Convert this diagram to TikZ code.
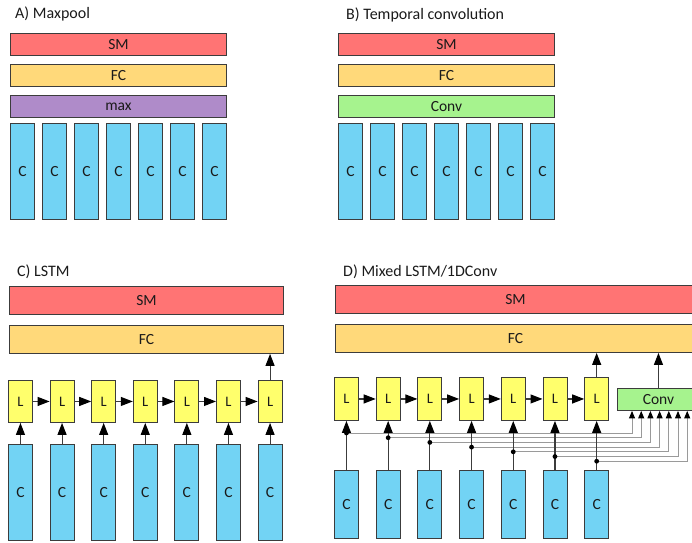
\documentclass[tikz,border=0pt]{standalone}
\usepackage{fontspec}
\setmainfont{Carlito}
\usetikzlibrary{arrows.meta}
\definecolor{smred}{HTML}{FF7474}
\definecolor{fcyel}{HTML}{FFD97A}
\definecolor{maxpur}{HTML}{AF8BC9}
\definecolor{convgr}{HTML}{A6F38E}
\definecolor{cblue}{HTML}{72D3F4}
\definecolor{lyel}{HTML}{FFFF6C}
\definecolor{edge}{HTML}{3C3C3C}
\definecolor{txt}{HTML}{1A1A1A}
\definecolor{tapgray}{HTML}{9A9A9A}
\begin{document}
\begin{tikzpicture}[x=1pt,y=-1pt,
  bx/.style={draw=edge, line width=0.9pt, inner sep=0pt, anchor=north west, text=txt,
             font=\fontsize{15.5}{17}\selectfont},
  cbox/.style={bx, fill=cblue, minimum width=24pt},
  lbox/.style={bx, fill=lyel, minimum width=24pt, minimum height=43pt, font=\fontsize{14.5}{16}\selectfont},
  ttl/.style={anchor=base west, inner sep=0pt, text=txt, font=\fontsize{16}{18}\selectfont},
  conn/.style={draw=edge, line width=1.1pt, -{Triangle[length=12pt,width=9pt,color=black]}},
  tap/.style={draw=tapgray, line width=0.9pt, -{Triangle[length=7.5pt,width=6pt,color=black]}},
  dot/.style={fill=black}
]
\clip (0,0) rectangle (692,542);
\useasboundingbox (0,0) rectangle (692,542);

% ---------- A) Maxpool
\node[ttl] (ta) at (15,18) {A) Maxpool};
\node[bx, fill=smred, minimum width=216pt, minimum height=22pt] (aSM) at (10,33) {SM};
\node[bx, fill=fcyel, minimum width=216pt, minimum height=22pt] (aFC) at (10,64) {FC};
\node[bx, fill=maxpur, minimum width=216pt, minimum height=22pt] (aMax) at (10,95) {max};
\foreach \i in {1,...,7}
  \node[cbox, minimum height=96pt] (aC\i) at ({10+32*(\i-1)},123) {C};

% ---------- B) Temporal convolution
\node[ttl] (tb) at (346,19) {B) Temporal convolution};
\node[bx, fill=smred, minimum width=216pt, minimum height=22pt] (bSM) at (338,33) {SM};
\node[bx, fill=fcyel, minimum width=216pt, minimum height=22pt] (bFC) at (338,64) {FC};
\node[bx, fill=convgr, minimum width=216pt, minimum height=22pt] (bConv) at (338,95) {Conv};
\foreach \i in {1,...,7}
  \node[cbox, minimum height=96pt] (bC\i) at ({338+32*(\i-1)},123) {C};

% ---------- C) LSTM
\node[ttl] (tc) at (17,276) {C) LSTM};
\node[bx, fill=smred, minimum width=274pt, minimum height=28pt] (cSM) at (9,286) {SM};
\node[bx, fill=fcyel, minimum width=274pt, minimum height=28pt] (cFC) at (9,325) {FC};
\foreach \i in {1,...,7} {
  \node[lbox, minimum height=42pt] (cL\i) at ({8+41.6*(\i-1)},380) {L};
  \node[cbox, minimum height=96pt] (cC\i) at ({8+41.6*(\i-1)},444) {C};
}
\foreach \i in {1,...,7}
  \draw[conn] (cC\i) -- (cL\i);
\foreach \i [evaluate=\i as \j using int(\i+1)] in {1,...,6}
  \draw[conn] (cL\i) -- (cL\j);
\draw[conn] (cL7.north) -- (cL7.north |- cFC.south);

% ---------- D) Mixed LSTM/1DConv
\node[ttl] (td) at (343,276) {D) Mixed LSTM/1DConv};
\node[bx, fill=smred, minimum width=360pt, minimum height=28pt] (dSM) at (335,285) {SM};
\node[bx, fill=fcyel, minimum width=360pt, minimum height=28pt] (dFC) at (335,324) {FC};
\node[bx, fill=convgr, minimum width=82pt, minimum height=22pt] (dConv) at (617,388) {Conv};
\foreach \i in {1,...,7} {
  \node[lbox] (dL\i) at ({334+41.7*(\i-1)},377) {L};
  \node[cbox, minimum height=68pt] (dC\i) at ({334+41.7*(\i-1)},470) {C};
}
% taps to the convolution
\foreach \i in {1,...,7} {
  \coordinate (ty\i) at (0,{433+4.7*(\i-1)});
  \coordinate (tap\i) at (dC\i |- ty\i);
  \coordinate (in\i) at ({632+9.2*(\i-1)},{433+4.7*(\i-1)});
  \draw[tap] (tap\i) -- (in\i) -- (in\i |- dConv.south);
}
\foreach \i in {1,...,7}
  \draw[conn] (dC\i) -- (dL\i);
\foreach \i in {1,...,7}
  \fill[dot] (tap\i) circle (2.4);
\foreach \i [evaluate=\i as \j using int(\i+1)] in {1,...,6}
  \draw[conn] (dL\i) -- (dL\j);
\draw[conn] (dL7.north) -- (dL7.north |- dFC.south);
\draw[conn] (dConv.north) -- (dConv.north |- dFC.south);
\end{tikzpicture}
\end{document}
